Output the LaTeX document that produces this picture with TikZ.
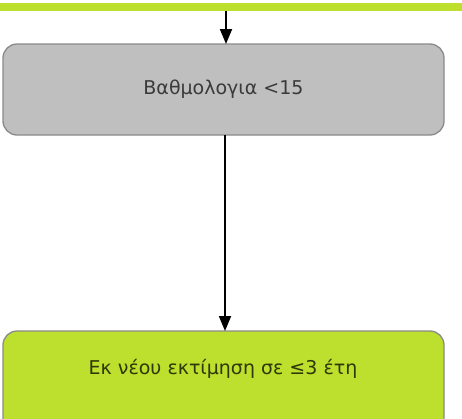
\documentclass[tikz,border=0pt]{standalone}
\usepackage{fontspec}
\setmainfont{DejaVu Sans}
\usetikzlibrary{arrows.meta}
\definecolor{limefill}{HTML}{BDDF2D}
\definecolor{greyfill}{HTML}{BFBFBF}
\definecolor{boxline}{HTML}{8A8A8A}
\definecolor{greytext}{HTML}{3A3A3A}
\definecolor{limetext}{HTML}{2E3808}
\tikzset{
  x=1pt, y=-1pt,
  stepbox/.style={draw=boxline, line width=1.3pt, rounded corners=14pt},
  flow/.style={line width=1.8pt, -{Triangle[width=12pt,length=15pt]}},
  lbl/.style={font=\fontsize{19}{22}\selectfont, anchor=base, inner sep=0pt}
}
\begin{document}
\begin{tikzpicture}
  \useasboundingbox (0,0) rectangle (462,418);
  % band left by the previous step
  \fill[limefill] (0,3) rectangle (462,11);
  \coordinate (band) at (226,11);
  % grading step
  \filldraw[stepbox, fill=greyfill] (3,44) rectangle (444,135);
  \node[lbl, text=greytext] (grade) at (223.5,94) {Βαθμολογια <15};
  \coordinate (gradetop) at (226,44);
  \coordinate (gradebot) at (225,135);
  % follow-up step
  \filldraw[stepbox, fill=limefill] (3,331) rectangle (444,440);
  \node[lbl, text=limetext] (again) at (223,374) {Εκ νέου εκτίμηση σε ≤3 έτη};
  \coordinate (againtop) at (225,331);
  % connectors
  \draw[flow] (band) -- (gradetop);
  \draw[flow] (gradebot) -- (againtop);
\end{tikzpicture}
\end{document}
